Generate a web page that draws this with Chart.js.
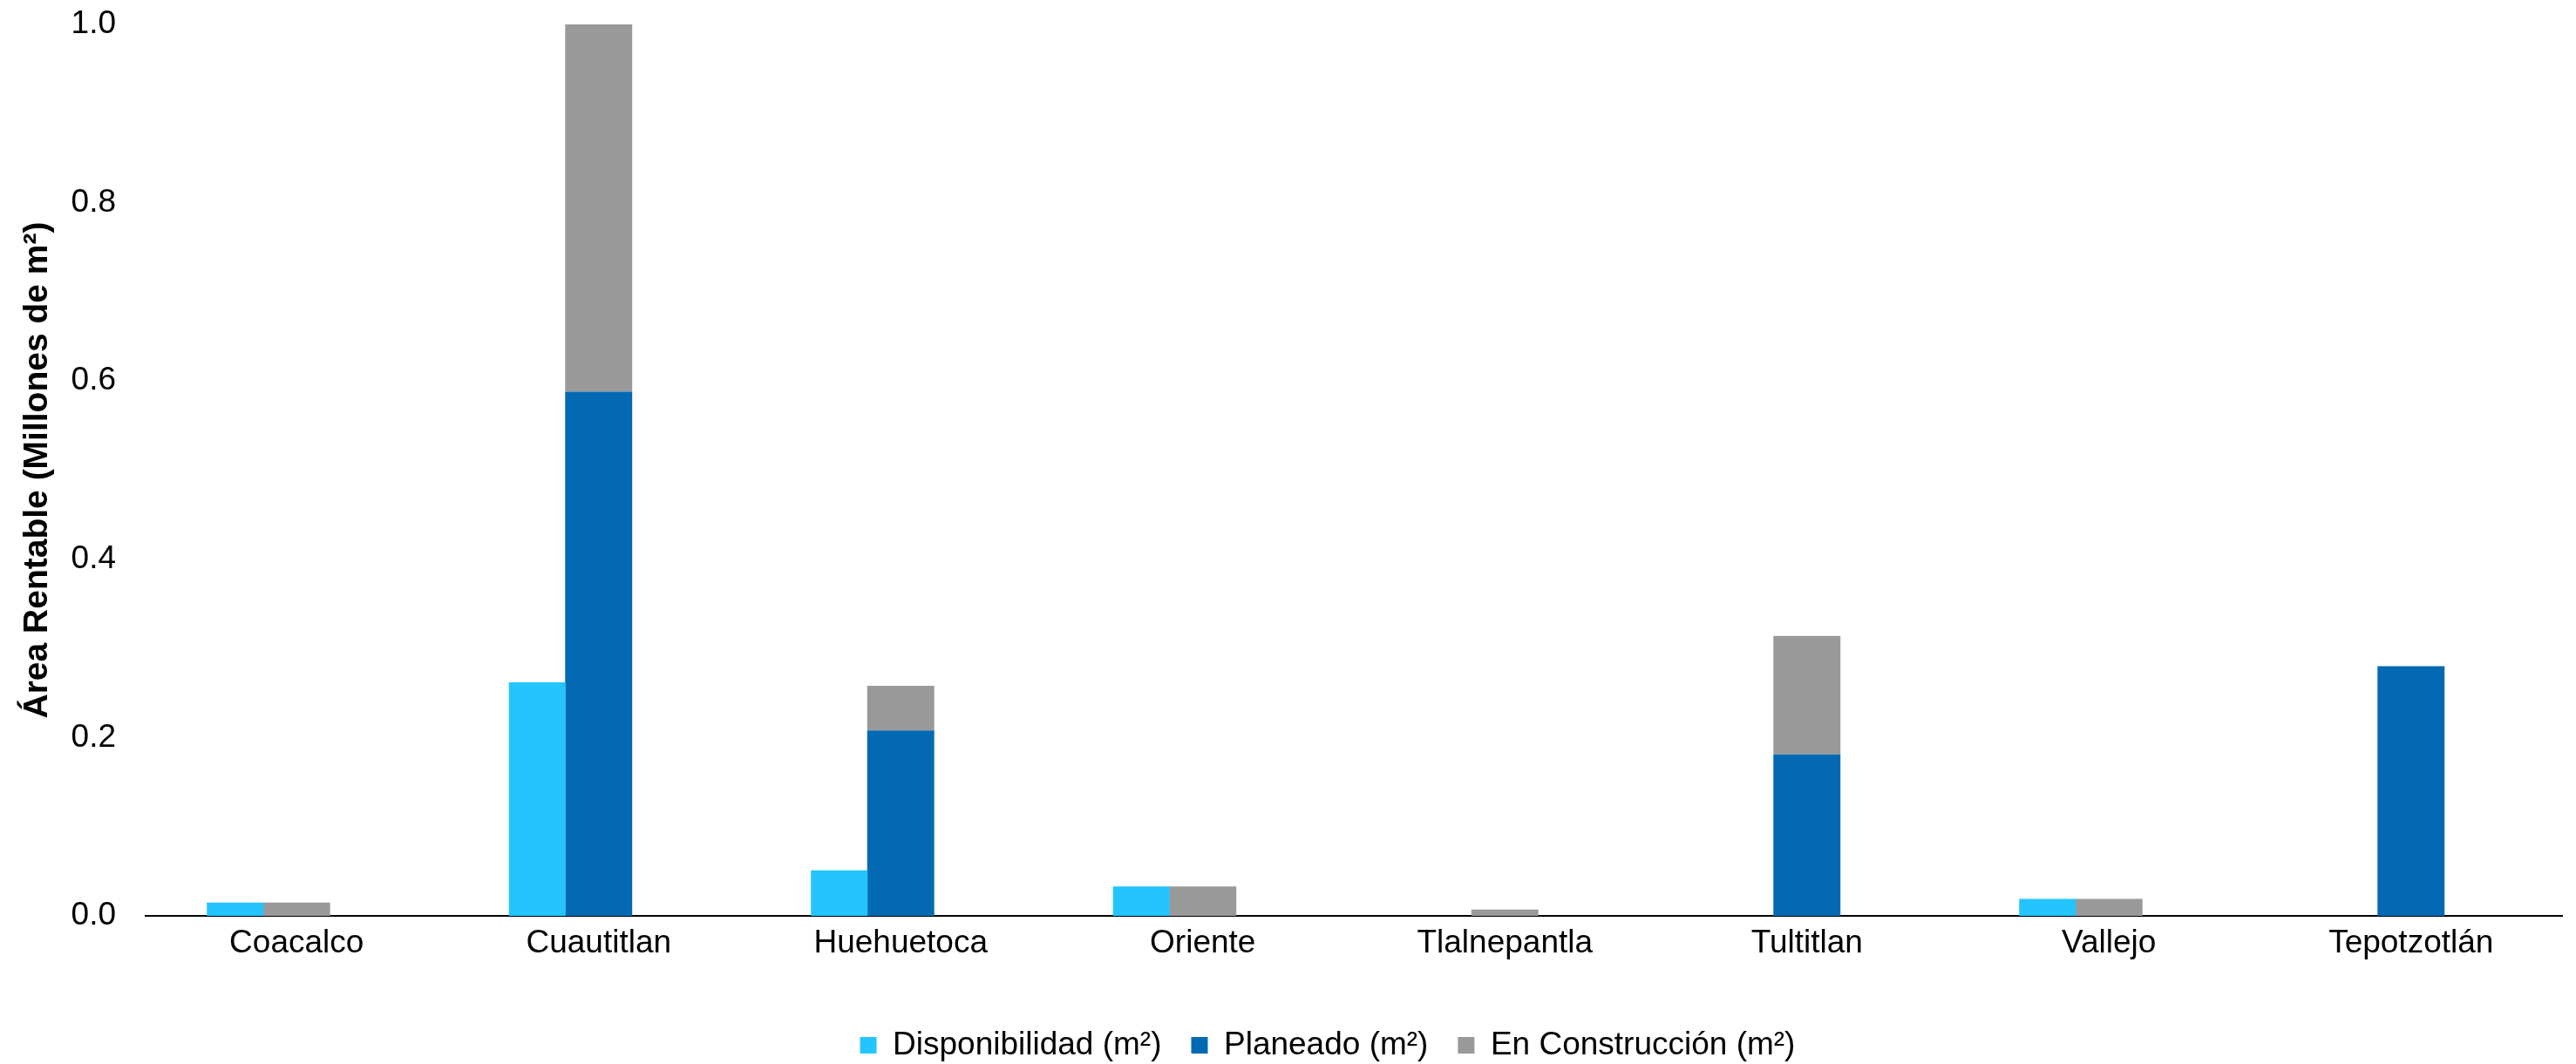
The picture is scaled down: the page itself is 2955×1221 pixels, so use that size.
<!DOCTYPE html>
<html>
<head>
<meta charset="utf-8">
<script src="https://cdn.jsdelivr.net/npm/chart.js@4/dist/chart.umd.min.js"></script>
<style>
  html, body { margin: 0; padding: 0; background: #ffffff; }
  canvas { display: block; }
</style>
</head>
<body>
<canvas id="chart" width="2955" height="1221"></canvas>
<script>
// Rentable area per submarket, in millions of m²
const categories = ['Coacalco', 'Cuautitlan', 'Huehuetoca', 'Oriente', 'Tlalnepantla', 'Tultitlan', 'Vallejo', 'Tepotzotlán'];
const disponibilidad = [0.015, 0.262, 0.051, 0.033, 0, 0, 0.019, 0];
const planeado       = [0, 0.588, 0.208, 0, 0, 0.181, 0, 0.28];
const enConstruccion = [0.015, 0.412, 0.050, 0.033, 0.007, 0.133, 0.019, 0];
const yTicks = [0, 0.2, 0.4, 0.6, 0.8, 1.0];

const seriesNames = ['Disponibilidad (m²)', 'Planeado (m²)', 'En Construcción (m²)'];
const colors = { disp: '#24C4FF', plan: '#0469B3', cons: '#999999' };

Chart.defaults.font.family = '"Liberation Sans", Arial, sans-serif';
Chart.defaults.color = '#000000';

// nudges the bottom legend so it sits under the middle of the plot
const legendOffset = {
  id: 'legendOffset',
  afterLayout(chart) {
    const lg = chart.legend;
    if (lg) { lg.left += 45; lg.right += 45; }
  }
};

new Chart(document.getElementById('chart'), {
  type: 'bar',
  data: {
    labels: categories,
    datasets: [
      {
        label: seriesNames[0],
        data: disponibilidad,
        backgroundColor: colors.disp,
        borderWidth: 0,
        stack: 'disp',
        categoryPercentage: 0.814,
        barPercentage: 0.461
      },
      {
        // empty slot so the availability bar sits left of the stacked column
        label: '',
        data: categories.map(() => null),
        backgroundColor: 'rgba(0,0,0,0)',
        borderWidth: 0,
        stack: 'gap',
        categoryPercentage: 0.814,
        barPercentage: 0.461
      },
      {
        label: seriesNames[1],
        data: planeado,
        backgroundColor: colors.plan,
        borderWidth: 0,
        stack: 'pipeline',
        grouped: false,
        categoryPercentage: 1,
        barPercentage: 0.222
      },
      {
        label: seriesNames[2],
        data: enConstruccion,
        backgroundColor: colors.cons,
        borderWidth: 0,
        stack: 'pipeline',
        grouped: false,
        categoryPercentage: 1,
        barPercentage: 0.222
      }
    ]
  },
  plugins: [legendOffset],
  options: {
    responsive: false,
    animation: false,
    devicePixelRatio: 1,
    layout: { padding: { top: 28, left: 17, right: 16, bottom: -7 } },
    plugins: {
      tooltip: { enabled: false },
      legend: {
        position: 'bottom',
        fullSize: true,
        labels: {
          boxWidth: 19,
          boxHeight: 19,
          padding: 34,
          color: '#000000',
          font: { size: 37 },
          filter: (item) => item.text !== ''
        }
      }
    },
    scales: {
      x: {
        type: 'category',
        grid: { display: false, drawTicks: false },
        border: { display: true, color: '#000000', width: 2 },
        ticks: {
          color: '#000000',
          font: { size: 37 },
          padding: 10,
          maxRotation: 0,
          autoSkip: false
        },
        afterFit: (scale) => { scale.height = 96; }
      },
      y: {
        min: 0,
        max: 1,
        grid: { display: false, drawTicks: false },
        border: { display: false },
        afterBuildTicks: (scale) => { scale.ticks = yTicks.map((v) => ({ value: v })); },
        afterFit: (scale) => {
          scale.width = 150;
          scale.paddingTop = 0;
          scale.paddingBottom = 0;
        },
        ticks: {
          color: '#000000',
          font: { size: 37 },
          padding: 34,
          callback: (v) => Number(v).toFixed(1)
        },
        title: {
          display: true,
          text: 'Área Rentable (Millones de m²)',
          color: '#000000',
          font: { size: 39, weight: 'bold' },
          padding: { top: 3, bottom: 15 }
        }
      }
    }
  }
});
</script>
</body>
</html>
